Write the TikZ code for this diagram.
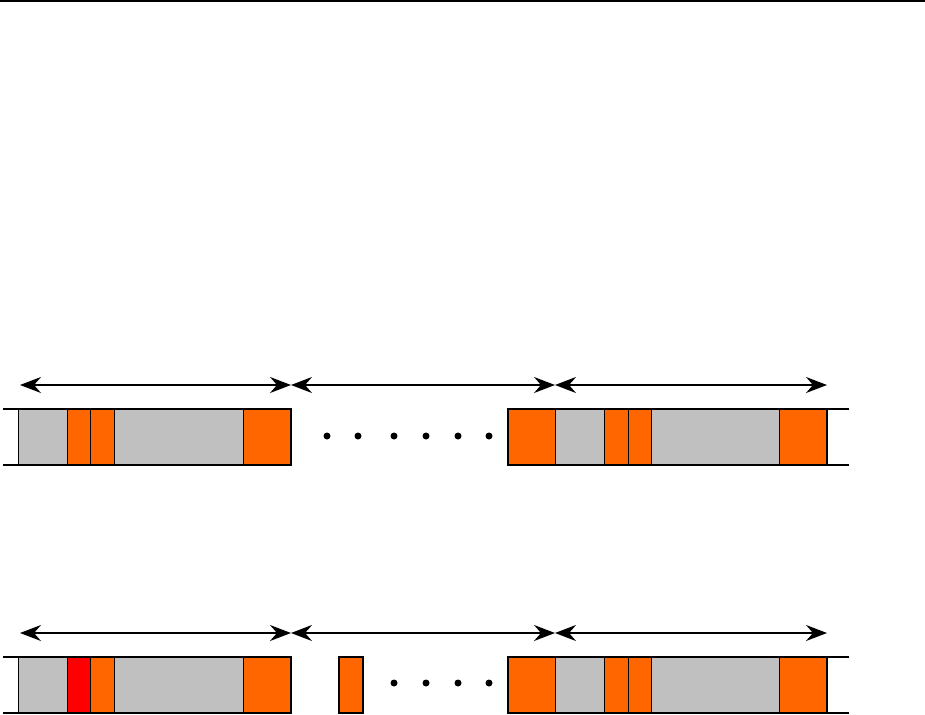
\documentclass[tikz,border=0pt]{standalone}
\usetikzlibrary{arrows.meta}
\definecolor{org}{HTML}{FF6600}
\definecolor{gry}{HTML}{C0C0C0}
\definecolor{rd}{HTML}{FF0000}
\tikzset{
  cell/.style={draw=black, line width=1pt},
  rail/.style={draw=black, line width=1.7pt},
  span/.style={line width=1.5pt, {Stealth[length=21pt,width=16pt,inset=7pt]}-{Stealth[length=21pt,width=16pt,inset=7pt]}},
  dotm/.style={fill=black}
}
\begin{document}
\begin{tikzpicture}[x=1pt,y=-1pt]
\useasboundingbox (0,0) rectangle (925,714);
\fill[white] (0,0) rectangle (925,714);
\draw[line width=1.7pt] (0,0.9) -- (925,0.9);

% ---------- row 1 ----------
\coordinate (a0) at (20,385);
\coordinate (a1) at (291,385);
\coordinate (a2) at (555,385);
\coordinate (a3) at (827,385);
\draw[span] (a0) -- (a1);
\draw[span] (a1) -- (a2);
\draw[span] (a2) -- (a3);

\filldraw[cell, fill=gry] (18,409) rectangle (67,465);
\filldraw[cell, fill=org] (67,409) rectangle (90,465);
\filldraw[cell, fill=org] (90,409) rectangle (114,465);
\filldraw[cell, fill=gry] (114,409) rectangle (243,465);
\filldraw[cell, fill=org] (243,409) rectangle (291,465);
\draw[rail] (3,409) -- (291,409) -- (291,465) -- (3,465);

\filldraw[cell, fill=org] (508,409) rectangle (555,465);
\filldraw[cell, fill=gry] (555,409) rectangle (604,465);
\filldraw[cell, fill=org] (604,409) rectangle (628,465);
\filldraw[cell, fill=org] (628,409) rectangle (651,465);
\filldraw[cell, fill=gry] (651,409) rectangle (779,465);
\filldraw[cell, fill=org] (779,409) rectangle (827,465);
\draw[rail] (849,409) -- (508,409) -- (508,465) -- (849,465);
\draw[rail] (827,409) -- (827,465);

\foreach \x in {327,358,394,426,458,489}
  \fill[dotm] (\x,436) circle (3.5);

% ---------- row 2 ----------
\coordinate (b0) at (20,633);
\coordinate (b1) at (291,633);
\coordinate (b2) at (555,633);
\coordinate (b3) at (827,633);
\draw[span] (b0) -- (b1);
\draw[span] (b1) -- (b2);
\draw[span] (b2) -- (b3);

\filldraw[cell, fill=gry] (18,657) rectangle (67,713);
\filldraw[cell, fill=rd] (67,657) rectangle (90,713);
\filldraw[cell, fill=org] (90,657) rectangle (114,713);
\filldraw[cell, fill=gry] (114,657) rectangle (243,713);
\filldraw[cell, fill=org] (243,657) rectangle (291,713);
\draw[rail] (3,657) -- (291,657) -- (291,713) -- (3,713);

\filldraw[rail, fill=org] (339,657) rectangle (363,713);

\filldraw[cell, fill=org] (508,657) rectangle (555,713);
\filldraw[cell, fill=gry] (555,657) rectangle (604,713);
\filldraw[cell, fill=org] (604,657) rectangle (628,713);
\filldraw[cell, fill=org] (628,657) rectangle (651,713);
\filldraw[cell, fill=gry] (651,657) rectangle (779,713);
\filldraw[cell, fill=org] (779,657) rectangle (827,713);
\draw[rail] (849,657) -- (508,657) -- (508,713) -- (849,713);
\draw[rail] (827,657) -- (827,713);

\foreach \x in {394,426,458,489}
  \fill[dotm] (\x,683) circle (3.5);
\end{tikzpicture}
\end{document}
